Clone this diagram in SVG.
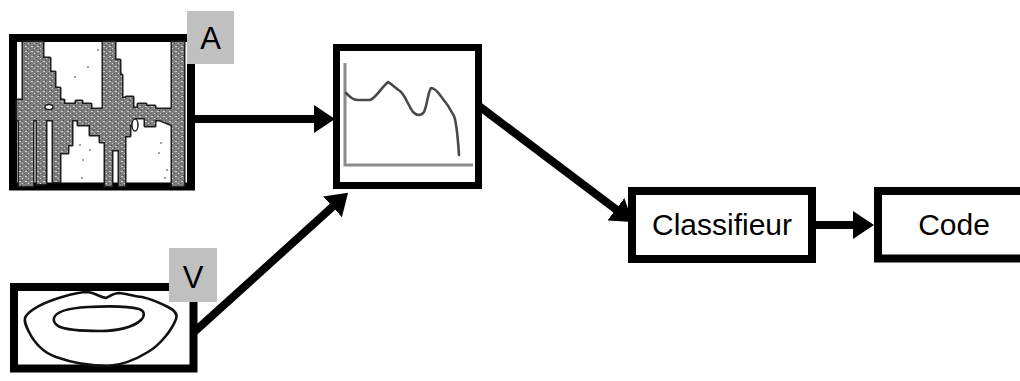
<svg xmlns="http://www.w3.org/2000/svg" width="1020" height="381" viewBox="0 0 1020 381">
  <style>
    .frame { fill: #ffffff; stroke: #000000; stroke-width: 8; }
    .tag { fill: #c0c0c0; }
    .tagtext { font-family: "Liberation Sans", Arial, sans-serif; font-size: 31px; fill: #000000; text-anchor: middle; }
    .label { font-family: "Liberation Sans", Arial, sans-serif; font-size: 30px; fill: #000000; text-anchor: middle; }
    .edge { fill: none; stroke: #000000; stroke-width: 8; }
    .wave-edge { fill: none; stroke: #1e1e1e; stroke-width: 3; stroke-linejoin: round; }
    .wave-fill { fill: url(#grain); stroke: none; }
    .lip { fill: none; stroke: #111111; stroke-width: 2.6; stroke-linejoin: round; }
    .axis { fill: none; stroke: #8c8c8c; stroke-width: 3; }
    .curve { fill: none; stroke: #4a4a4a; stroke-width: 2.6; stroke-linejoin: round; stroke-linecap: round; }
  </style>
  <defs>
    <marker id="head" markerUnits="userSpaceOnUse" markerWidth="22" markerHeight="28" refX="2" refY="14" orient="auto">
      <path d="M0,0 L21,14 L0,28 z" fill="#000000"/>
    </marker>
    <pattern id="grain" patternUnits="userSpaceOnUse" width="6" height="5">
      <rect width="6" height="5" fill="#7e7e7e"/>
      <rect x="1" y="1" width="2" height="1" fill="#cfcfcf"/>
      <rect x="4" y="3" width="1" height="1" fill="#d8d8d8"/>
      <rect x="3" y="0" width="1" height="1" fill="#4a4a4a"/>
      <rect x="0" y="3" width="1" height="1" fill="#555555"/>
    </pattern>
    <path id="wave" d="M17,100 L23,100 L23,42 L43,42 L43,58 L50,58 L50,72 L55,72 L55,88 L60,88 L60,100 L64,100 L64,104 L76,104 L76,101 L82,101 L82,104 L91,104 L91,109 L103,109 L103,42 L115,42 L115,60 L120,60 L120,75 L122,75 L122,98 L126,98 L126,97 L133,97 L133,108 L138,108 L138,104 L146,104 L146,106 L155,106 L155,109 L172,109 L172,42 L184,42 L184,186 L172,186 L172,125 L160,120 L155,120 L155,126 L145,126 L145,118 L135,118 L135,125 L130,125 L130,136 L125,136 L125,186 L119,186 L119,150 L112,150 L112,186 L105,186 L105,142 L100,142 L100,135 L90,135 L90,125 L78,125 L78,120 L72,120 L72,145 L68,145 L68,153 L60,153 L60,182 L53,182 L53,120 L46,120 L46,184 L37,184 L37,120 L33,120 L33,186 L19,186 L19,120 L17,120 z"/>
  </defs>

  <!-- audio input: waveform -->
  <g id="node-audio">
    <rect class="frame" x="13" y="38" width="178" height="148.5"/>
    <use href="#wave" class="wave-edge"/>
    <use href="#wave" class="wave-fill"/>
    <ellipse cx="49" cy="107" rx="4" ry="2.5" fill="#ffffff" stroke="#222" stroke-width="1.5"/>
    <ellipse cx="135" cy="125" rx="3" ry="6" fill="#ffffff" stroke="#222" stroke-width="1.5"/>
    <g fill="#777777">
      <circle cx="98" cy="50" r="0.9"/>
      <circle cx="88" cy="67" r="0.9"/>
      <circle cx="75" cy="77" r="0.9"/>
      <circle cx="80" cy="145" r="0.9"/>
      <circle cx="83" cy="160" r="0.9"/>
      <circle cx="82" cy="178" r="0.9"/>
      <circle cx="90" cy="150" r="0.9"/>
      <circle cx="161" cy="143" r="0.9"/>
      <circle cx="159" cy="153" r="0.9"/>
      <circle cx="165" cy="178" r="0.9"/>
      <circle cx="167" cy="170" r="0.9"/>
    </g>
    <rect class="tag" x="187" y="11" width="47" height="53"/>
    <text class="tagtext" x="210.5" y="49">A</text>
  </g>

  <!-- visual input: lips -->
  <g id="node-visual">
    <rect class="frame" x="14" y="287" width="179.5" height="81.5"/>
    <path class="lip" d="M25,318 C28,310 45,302 62,297 C72,294 80,292 88,292 C95,293 100,297 106,298 C110,296 114,293 119,293 C128,294 134,296 142,297 C152,299 160,303 168,307 C174,310 178,314 176,319 C172,330 160,345 148,352 C135,360 122,365 108,366 C88,366 70,362 56,357 C42,352 34,342 29,332 C26,326 24,322 25,318 z"/>
    <path class="lip" d="M54,318 C56,311 70,308 88,307 C108,306 128,306 139,309 C145,311 145,316 141,320 C134,327 118,331 100,331 C82,331 66,330 58,326 C54,323 53,321 54,318 z"/>
    <rect class="tag" x="169" y="248" width="48" height="54"/>
    <text class="tagtext" x="193" y="288">V</text>
  </g>

  <!-- fused feature curve -->
  <g id="node-features">
    <rect class="frame" x="336.5" y="47.5" width="142" height="138" style="stroke-width:7"/>
    <g filter="url(#soft)">
      <path class="axis" d="M345,63 L345,165 L473,165"/>
      <path class="curve" d="M346,93 C350,97 353,100 358,100 L370,100 C376,98 381,88 388,82 C392,84 395,88 400,91 C405,95 408,105 413,112 C417,116 421,116 424,112 C427,106 428,92 431,88 C434,88 437,91 440,95 C445,101 450,108 454,116 C457,124 458,140 459,155"/>
    </g>
  </g>
  <defs>
    <filter id="soft" x="-10%" y="-10%" width="120%" height="120%">
      <feGaussianBlur stdDeviation="0.7"/>
    </filter>
  </defs>

  <g id="node-classifier">
    <rect class="frame" x="632" y="191" width="180" height="68"/>
    <text class="label" x="722" y="235">Classifieur</text>
  </g>

  <g id="node-code">
    <rect class="frame" x="878" y="191" width="150" height="67.5"/>
    <text class="label" x="954" y="235">Code</text>
  </g>

  <!-- connectors -->
  <g id="connectors">
    <line class="edge" x1="191" y1="119" x2="316" y2="119" marker-end="url(#head)"/>
    <line class="edge" x1="193" y1="333" x2="334" y2="205.5" marker-end="url(#head)"/>
    <line class="edge" x1="479" y1="106" x2="617.5" y2="210.5" marker-end="url(#head)"/>
    <line class="edge" x1="812" y1="225" x2="855" y2="225" marker-end="url(#head)"/>
  </g>
</svg>
